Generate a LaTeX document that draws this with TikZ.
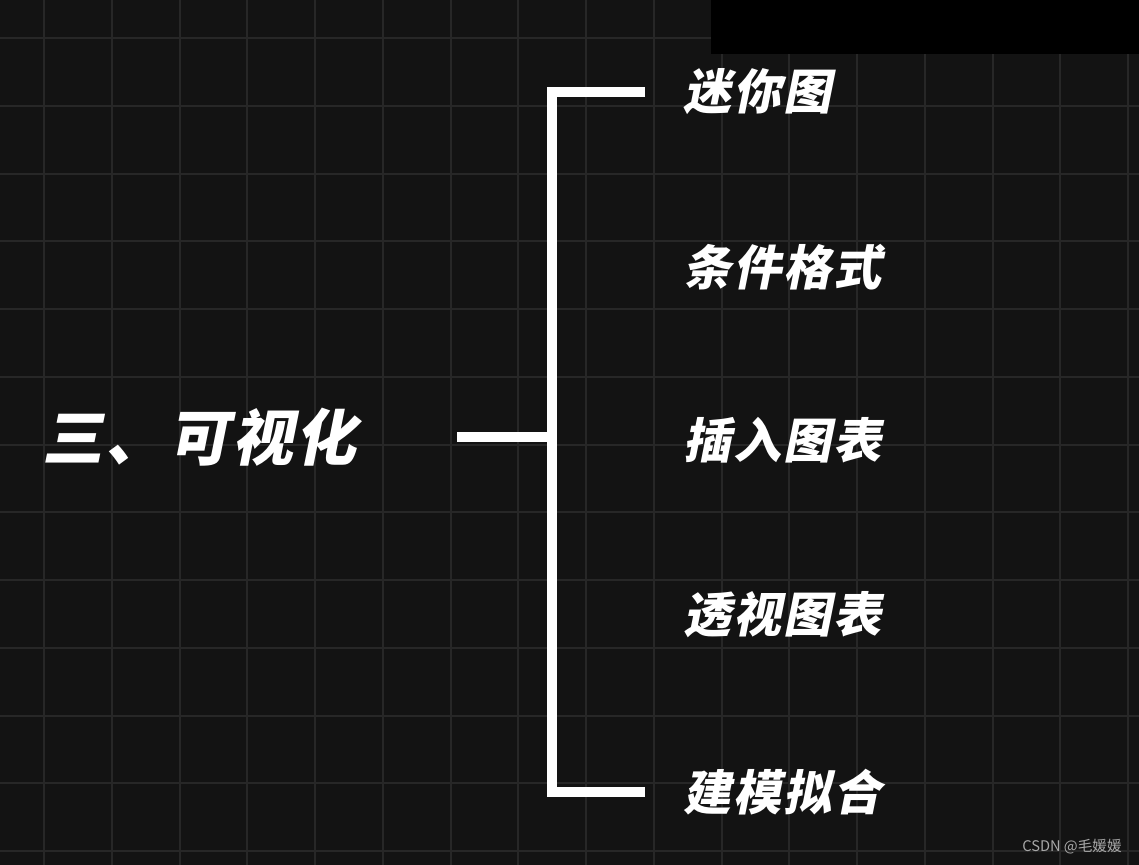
\documentclass[tikz,border=0pt]{standalone}
\usepackage{fontspec}
\usepackage{tikz}
\usetikzlibrary{positioning,calc}
\usepackage{xcolor}
\newfontfamily\cjkbold{Noto Sans CJK SC}[FakeSlant=0.2,LetterSpace=4]
\newfontfamily\cjk{Noto Sans CJK SC}
\definecolor{Board}{HTML}{131313}
\definecolor{GridGray}{HTML}{272727}
\definecolor{MarkGray}{HTML}{A8A8A8}

\begin{document}
\begin{tikzpicture}[x=0.03cm,y=-0.03cm,every node/.style={inner sep=0pt},
  item/.style={anchor=west,text=white,font=\cjkbold\bfseries\fontsize{41}{47}\selectfont},
  bar/.style={draw=white,line width=10*0.03cm}]
  \useasboundingbox (0,0) rectangle (1139,865);
  \fill[Board] (0,0) rectangle (1139,865);
  \foreach \i in {0,...,16}{\draw[GridGray,line width=2*0.03cm] ({44+67.75*\i},0) -- ++(0,865);}
  \foreach \j in {0,...,12}{\draw[GridGray,line width=2*0.03cm] (0,{38+67.75*\j}) -- ++(1139,0);}
  \fill[black] (711,0) rectangle (1139,54);

  \node[anchor=west,text=white,font=\cjkbold\bfseries\fontsize{52}{60}\selectfont] (topic) at (42,437) {三、可视化};
  \coordinate (stub) at (457,437);
  \coordinate (hub) at (552,437);

  \node[item] (mini) at (683,92) {迷你图};
  \node[item] (cond) at (683,267) {条件格式};
  \node[item] (chart) at (683,440) {插入图表};
  \node[item] (pivot) at (683,615) {透视图表};
  \node[item] (model) at (683,792) {建模拟合};

  \draw[bar] (stub) -- (hub);
  \draw[bar] ([xshift=-38*0.03cm]mini.west) -| (hub) |- ([xshift=-38*0.03cm]model.west);

  \node[anchor=east,text=MarkGray,font=\cjk\fontsize{12.5}{14}\selectfont] (mark) at (1122,847) {CSDN @毛媛媛};
\end{tikzpicture}
\end{document}
